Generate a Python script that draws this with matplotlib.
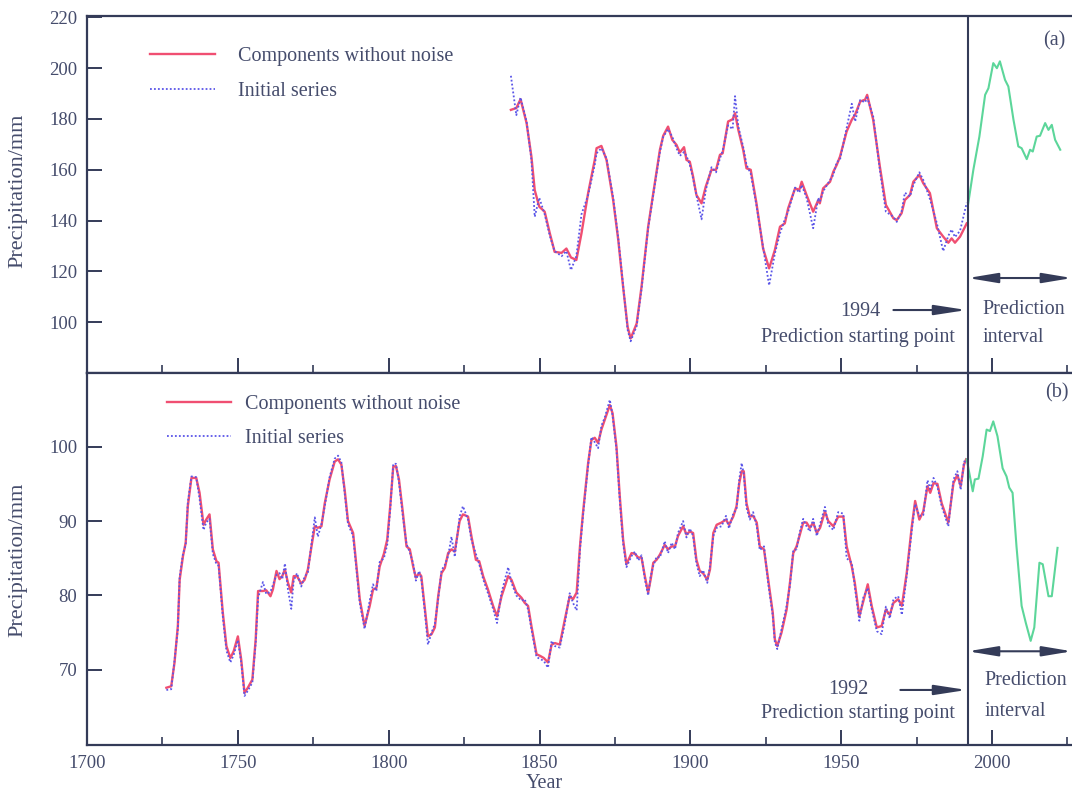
#!/usr/bin/env python
"""
Precipitation series with noise-free components and prediction.

Two stacked panels: (a) with prediction starting in 1994, (b) in 1992.
"""

import matplotlib
matplotlib.use('Agg')
import matplotlib.pyplot as plt
from matplotlib.lines import Line2D

# ---------------- panel (a) ----------------
years_a = [1840.5, 1842.3, 1843.7, 1845.7, 1847.3, 1848.4, 1849.9, 1851.7, 1853.4, 1855.0,
           1857.3, 1858.9, 1860.4, 1862.2, 1863.9, 1866.1, 1868.3, 1868.9, 1870.5, 1872.2,
           1874.4, 1876.1, 1877.7, 1879.2, 1880.2, 1882.2, 1883.8, 1886.0, 1888.2, 1889.9,
           1891.0, 1892.6, 1894.0, 1895.4, 1896.5, 1897.9, 1898.7, 1899.8, 1900.9, 1902.0,
           1903.7, 1905.1, 1907.0, 1908.5, 1909.8, 1910.7, 1912.5, 1914.0, 1914.8, 1915.9,
           1917.5, 1918.6, 1920.0, 1921.9, 1924.1, 1926.1, 1928.0, 1929.7, 1931.3, 1932.4,
           1934.7, 1936.1, 1936.9, 1938.5, 1940.7, 1942.4, 1942.9, 1944.0, 1946.3, 1947.4,
           1948.5, 1949.6, 1951.8, 1953.5, 1954.6, 1956.3, 1957.9, 1958.6, 1960.6, 1962.8,
           1964.8, 1967.3, 1968.4, 1970.0, 1971.1, 1972.8, 1973.9, 1975.9, 1977.2, 1979.4,
           1981.7, 1983.8, 1985.5, 1986.6, 1987.7, 1989.4, 1991.6]
smooth_a = [183.6, 184.3, 187.8, 178.4, 165.2, 152.0, 145.5, 143.5, 135.0, 127.7,
            127.3, 129.0, 125.5, 124.5, 135.0, 150.8, 163.9, 168.5, 169.4, 163.9,
            148.1, 132.3, 113.9, 98.1, 93.6, 99.5, 113.9, 137.6, 154.7, 167.9,
            173.4, 177.0, 171.8, 169.8, 166.8, 168.9, 163.9, 163.2, 157.3, 150.1,
            146.8, 153.4, 160.0, 160.0, 165.9, 166.5, 179.0, 179.9, 182.3, 175.7,
            167.9, 160.6, 160.0, 146.8, 129.0, 121.2, 128.4, 137.6, 138.9, 144.8,
            152.7, 152.1, 155.3, 150.1, 143.5, 148.1, 146.8, 152.7, 155.3, 159.3,
            161.9, 165.2, 175.1, 179.7, 181.7, 186.9, 187.6, 189.5, 179.7, 161.3,
            146.2, 140.9, 140.2, 142.9, 148.1, 150.1, 155.3, 158.0, 154.7, 150.8,
            137.0, 133.7, 131.3, 133.0, 131.3, 133.7, 138.9]
initial_a = [197.0, 181.5, 188.5, 179.0, 164.0, 141.5, 149.0, 142.5, 134.0, 128.0,
             126.0, 128.0, 120.5, 126.0, 142.5, 150.0, 162.0, 166.5, 168.5, 164.5,
             149.0, 133.0, 114.5, 97.0, 92.5, 98.5, 113.0, 137.0, 154.0, 167.0,
             173.0, 176.0, 173.0, 168.5, 165.5, 167.0, 165.5, 162.0, 156.5, 150.0,
             140.5, 152.0, 161.0, 159.0, 164.5, 167.5, 177.5, 176.0, 189.0, 177.0,
             169.0, 162.0, 158.5, 146.0, 129.5, 114.5, 127.0, 135.0, 140.5, 143.5,
             153.0, 151.0, 154.0, 149.0, 137.0, 149.0, 147.5, 151.5, 156.0, 158.0,
             163.0, 164.0, 176.5, 186.0, 179.0, 187.5, 186.5, 188.5, 181.0, 160.0,
             143.5, 141.5, 139.5, 143.5, 151.0, 149.5, 154.0, 159.0, 156.0, 148.5,
             139.0, 128.0, 134.0, 136.5, 133.5, 136.0, 147.0]
pred_years_a = [1992.0, 1993.8, 1995.8, 1997.7, 1998.8, 2000.4, 2001.6, 2002.6, 2004.3, 2005.4,
                2007.1, 2008.7, 2009.8, 2011.5, 2012.6, 2013.5, 2014.8, 2015.9, 2017.6, 2018.7,
                2019.8, 2020.9, 2022.6]
pred_a = [146.0, 160.0, 173.1, 189.5, 192.1, 202.0, 200.0, 202.7, 195.4, 192.8,
          179.7, 169.2, 168.5, 164.2, 167.9, 167.2, 173.1, 173.4, 178.4, 175.7,
          177.7, 171.8, 167.9]

# ---------------- panel (b) ----------------
years_b = [1726.3, 1727.9, 1729.0, 1730.1, 1730.7, 1731.8, 1732.7, 1733.4, 1734.6, 1736.2,
           1737.3, 1738.6, 1739.5, 1740.6, 1741.7, 1742.9, 1743.6, 1745.0, 1746.2, 1747.5,
           1748.6, 1750.0, 1751.1, 1752.2, 1753.3, 1754.8, 1755.9, 1756.7, 1758.3, 1759.4,
           1760.8, 1761.6, 1762.8, 1763.8, 1764.7, 1765.6, 1766.6, 1767.7, 1768.5, 1769.6,
           1771.0, 1772.1, 1773.2, 1774.4, 1775.5, 1776.5, 1777.7, 1778.8, 1780.4, 1782.1,
           1783.2, 1784.3, 1785.4, 1786.5, 1788.2, 1789.3, 1790.4, 1792.0, 1793.7, 1794.8,
           1795.9, 1797.0, 1798.4, 1799.5, 1800.5, 1801.5, 1802.4, 1803.4, 1804.7, 1805.9,
           1807.0, 1808.1, 1809.0, 1810.1, 1810.8, 1811.9, 1813.0, 1814.2, 1815.3, 1816.4,
           1817.5, 1818.6, 1819.7, 1820.8, 1821.9, 1823.5, 1824.6, 1826.3, 1827.4, 1828.9,
           1830.0, 1831.3, 1832.9, 1834.6, 1835.9, 1837.4, 1839.6, 1840.7, 1842.3, 1844.0,
           1845.1, 1846.2, 1847.3, 1849.0, 1850.1, 1851.4, 1852.8, 1854.0, 1855.1, 1856.7,
           1858.4, 1860.0, 1861.1, 1862.3, 1863.4, 1864.4, 1866.1, 1867.2, 1868.3, 1869.4,
           1870.5, 1871.6, 1873.3, 1874.2, 1875.5, 1876.6, 1877.7, 1878.8, 1880.5, 1881.6,
           1882.7, 1883.8, 1884.9, 1886.0, 1886.8, 1887.7, 1888.8, 1889.9, 1891.5, 1892.6,
           1893.8, 1894.9, 1895.9, 1897.6, 1898.7, 1899.8, 1900.9, 1902.0, 1903.1, 1904.2,
           1905.6, 1906.5, 1907.6, 1908.7, 1910.3, 1911.8, 1912.8, 1914.2, 1915.3, 1916.2,
           1917.0, 1917.7, 1918.6, 1919.7, 1920.8, 1922.0, 1923.0, 1924.4, 1925.8, 1927.3,
           1928.0, 1928.8, 1930.2, 1931.9, 1933.0, 1934.1, 1935.2, 1936.3, 1937.4, 1938.5,
           1939.6, 1940.7, 1941.9, 1943.0, 1944.6, 1945.7, 1947.4, 1949.0, 1950.7, 1951.8,
           1953.5, 1954.5, 1956.0, 1957.3, 1958.8, 1960.1, 1961.8, 1963.4, 1964.8, 1966.1,
           1967.3, 1968.9, 1970.1, 1971.7, 1973.4, 1974.5, 1975.9, 1977.2, 1978.6, 1979.5,
           1980.6, 1981.9, 1983.3, 1985.5, 1987.2, 1988.5, 1989.6, 1990.7, 1991.4]
smooth_b = [67.6, 67.8, 71.0, 75.9, 82.1, 85.3, 87.1, 92.0, 95.8, 95.8,
            93.8, 89.5, 90.2, 90.9, 86.2, 84.6, 84.4, 77.7, 73.2, 71.6,
            72.5, 74.5, 71.4, 66.9, 67.6, 68.7, 74.1, 80.6, 80.6, 80.7,
            79.9, 80.8, 83.3, 82.2, 82.6, 83.5, 81.7, 80.4, 82.6, 82.6,
            81.6, 82.1, 83.5, 86.6, 89.3, 89.1, 89.3, 92.4, 95.6, 98.0,
            98.3, 97.6, 94.2, 90.0, 88.4, 83.9, 79.5, 75.9, 78.6, 80.8,
            81.0, 83.9, 85.6, 87.5, 92.0, 97.3, 97.4, 95.6, 91.1, 86.6,
            86.2, 83.9, 82.4, 83.0, 82.6, 78.6, 74.5, 74.8, 75.7, 79.9,
            83.0, 83.7, 85.7, 86.2, 85.9, 90.0, 90.9, 90.6, 88.0, 84.8,
            84.6, 82.6, 80.8, 78.6, 77.2, 79.9, 82.6, 82.1, 80.4, 79.7,
            79.0, 78.6, 75.9, 72.1, 71.9, 71.6, 71.0, 73.4, 73.6, 73.4,
            76.8, 79.9, 79.5, 80.4, 86.6, 91.1, 97.8, 100.9, 101.2, 100.5,
            102.3, 103.6, 105.6, 104.5, 100.0, 93.3, 87.5, 84.2, 85.7, 85.6,
            85.1, 85.1, 82.6, 80.4, 82.1, 84.4, 84.8, 85.5, 86.8, 86.2,
            86.6, 86.6, 88.0, 89.3, 88.2, 88.6, 88.4, 84.8, 83.3, 83.0,
            82.1, 83.5, 88.4, 89.5, 89.8, 90.2, 89.5, 90.6, 92.0, 95.1,
            96.7, 96.7, 92.4, 90.6, 90.7, 89.8, 86.6, 86.2, 82.1, 77.7,
            74.1, 73.2, 75.0, 78.1, 81.7, 85.7, 86.6, 88.2, 89.8, 89.8,
            89.1, 89.8, 88.4, 89.1, 91.3, 90.0, 89.3, 90.6, 90.6, 86.6,
            83.9, 81.7, 77.2, 79.2, 81.5, 78.6, 75.7, 75.9, 78.1, 77.4,
            79.0, 79.5, 78.6, 83.0, 89.3, 92.7, 90.2, 91.3, 94.7, 93.8,
            95.1, 95.0, 92.4, 89.8, 95.1, 96.2, 94.7, 97.6, 98.3]
initial_b = [67.3, 67.4, 71.3, 75.5, 82.5, 85.6, 86.8, 92.5, 96.0, 95.9,
             93.0, 88.8, 89.8, 90.3, 85.6, 84.2, 84.0, 77.2, 72.6, 71.0,
             72.0, 74.0, 71.0, 66.5, 67.2, 68.3, 73.6, 79.7, 81.8, 80.2,
             80.5, 81.4, 82.8, 83.0, 82.2, 84.3, 80.8, 78.2, 82.0, 83.0,
             81.2, 82.5, 83.1, 87.0, 90.5, 87.9, 89.6, 92.0, 95.9, 98.4,
             98.8, 97.9, 93.8, 89.6, 88.0, 83.5, 79.0, 75.5, 79.3, 81.5,
             80.6, 84.5, 85.0, 86.8, 91.6, 97.7, 97.7, 95.2, 90.6, 86.9,
             85.8, 84.3, 82.0, 83.3, 82.2, 78.1, 73.4, 75.0, 76.2, 79.5,
             83.4, 84.1, 85.3, 87.9, 85.2, 90.6, 92.0, 90.2, 87.5, 85.6,
             84.2, 82.2, 80.3, 78.2, 76.3, 80.4, 83.8, 81.7, 80.0, 79.3,
             79.5, 78.1, 75.5, 71.7, 71.5, 71.2, 70.3, 73.9, 73.2, 73.0,
             76.3, 80.3, 79.0, 78.0, 86.2, 90.7, 97.5, 101.3, 100.6, 99.8,
             102.8, 103.9, 106.3, 104.2, 99.6, 92.8, 87.0, 83.8, 85.3, 85.9,
             84.7, 85.4, 82.2, 80.0, 82.5, 84.0, 85.2, 85.1, 87.3, 85.7,
             87.1, 86.2, 88.4, 90.0, 87.8, 89.0, 88.0, 84.3, 82.6, 83.4,
             81.7, 84.0, 88.0, 89.1, 89.3, 90.7, 89.0, 91.0, 91.6, 95.6,
             97.8, 96.3, 91.8, 90.2, 91.2, 89.3, 86.1, 86.6, 81.6, 77.3,
             73.7, 72.8, 75.4, 78.6, 81.3, 86.1, 86.2, 88.6, 90.3, 89.3,
             88.6, 90.3, 88.0, 89.6, 91.9, 89.5, 88.8, 91.2, 91.0, 85.0,
             84.4, 81.2, 76.6, 79.7, 81.0, 78.2, 75.2, 74.8, 78.5, 76.9,
             79.5, 79.9, 77.4, 82.6, 88.8, 92.3, 90.7, 90.8, 95.5, 94.3,
             95.8, 94.6, 92.0, 89.3, 95.6, 96.7, 94.2, 98.0, 98.0]
pred_years_b = [1991.6, 1993.6, 1994.3, 1995.5, 1996.9, 1998.2, 1999.3, 2000.4, 2001.8, 2003.5,
                2004.8, 2005.7, 2006.8, 2008.1, 2009.8, 2011.2, 2012.8, 2014.0, 2015.7, 2016.8,
                2018.7, 2019.8, 2021.7]
pred_b = [98.3, 94.0, 95.6, 95.7, 98.7, 102.3, 102.1, 103.4, 101.4, 97.1,
          96.0, 94.5, 93.8, 86.6, 78.6, 76.3, 73.9, 75.7, 84.4, 84.2,
          79.9, 79.9, 86.4]

INK = '#343b58'
TXT = '#454c6c'
RED = '#f04f72'
BLUE = '#5a55e8'
GREEN = '#5cd69a'
SERIF = ['Liberation Serif', 'DejaVu Serif']


def style_axis(ax, yticks):
    """Inward ticks, dark frame, serif labels."""
    ax.set_xlim(1700, 2026.5)
    ax.set_xticks(range(1700, 2001, 50))
    ax.set_xticks(range(1725, 2030, 50), minor=True)
    ax.set_yticks(yticks)
    ax.tick_params(axis='both', which='major', direction='in', length=11, width=1.4,
                   colors=INK, labelcolor=TXT, labelsize=13.5, pad=7)
    ax.tick_params(axis='x', which='minor', direction='in', length=6, width=1.2, colors=INK)
    ax.tick_params(top=False, right=False)
    ax.spines['right'].set_visible(False)
    for s in ('left', 'bottom', 'top'):
        ax.spines[s].set_color(INK)
        ax.spines[s].set_linewidth(1.6)
    for lab in ax.get_xticklabels() + ax.get_yticklabels():
        lab.set_family(SERIF)


def add_legend(ax, x, y, textpad):
    handles = [Line2D([], [], color=RED, lw=1.7),
               Line2D([], [], color=BLUE, lw=1.3, linestyle=(0, (1, 1.2)))]
    leg = ax.legend(handles, ['Components without noise', 'Initial series'],
                    loc='upper left', bbox_to_anchor=(x, y), frameon=False,
                    borderpad=0, borderaxespad=0, handlelength=3.2, handletextpad=textpad,
                    labelspacing=0.75, prop={'family': SERIF, 'size': 14.5})
    for t in leg.get_texts():
        t.set_color(TXT)


def arrow(ax, x0, x1, y, style):
    ax.annotate('', xy=(x1, y), xytext=(x0, y),
                arrowprops=dict(arrowstyle=style, color=INK, lw=1.5,
                                mutation_scale=15, shrinkA=0, shrinkB=0))


def plot_panels():
    fig = plt.figure(figsize=(10.72, 7.93), dpi=100)
    ax_a = fig.add_axes([0.0812, 0.5296, 0.9188, 0.4504])
    ax_b = fig.add_axes([0.0812, 0.0605, 0.9188, 0.4691])

    head_one = '-|>,head_length=1.3,head_width=0.2'
    head_two = '<|-|>,head_length=1.2,head_width=0.2'

    # panel (a)
    ax_a.plot(years_a, smooth_a, color=RED, lw=1.7)
    ax_a.plot(years_a, initial_a, color=BLUE, lw=1.3, linestyle=(0, (1, 1.2)))
    ax_a.plot(pred_years_a, pred_a, color=GREEN, lw=1.5)
    ax_a.axvline(1992, color=INK, lw=1.5)
    ax_a.set_ylim(80, 220.6)
    style_axis(ax_a, range(100, 221, 20))
    ax_a.tick_params(axis='x', labelbottom=False)
    add_legend(ax_a, 0.064, 0.912, 1.15)

    arrow(ax_a, 1967.3, 1991.6, 104.8, head_one)
    arrow(ax_a, 1992, 2026.5, 117.4, head_two)
    ax_a.text(1956.4, 104.4, '1994', ha='center', va='center', color=TXT,
              family=SERIF, fontsize=14.5)
    ax_a.text(1955.4, 93.8, 'Prediction starting point', ha='center', va='center',
              color=TXT, family=SERIF, fontsize=14.5)
    ax_a.text(1996.7, 105.2, 'Prediction', ha='left', va='center', color=TXT,
              family=SERIF, fontsize=14.5)
    ax_a.text(1996.7, 93.8, 'interval', ha='left', va='center', color=TXT,
              family=SERIF, fontsize=14.5)
    ax_a.text(2020.5, 210.7, '(a)', ha='center', va='center', color=TXT,
              family=SERIF, fontsize=14.5)

    # panel (b)
    ax_b.plot(years_b, smooth_b, color=RED, lw=1.7)
    ax_b.plot(years_b, initial_b, color=BLUE, lw=1.3, linestyle=(0, (1, 1.2)))
    ax_b.plot(pred_years_b, pred_b, color=GREEN, lw=1.5)
    ax_b.axvline(1992, color=INK, lw=1.5)
    ax_b.set_ylim(59.9, 109.9)
    style_axis(ax_b, range(70, 101, 10))
    ax_b.tick_params(axis='x', which='both', top=False)
    add_legend(ax_b, 0.081, 0.941, 0.7)

    arrow(ax_b, 1969.6, 1991.6, 67.3, head_one)
    arrow(ax_b, 1992, 2026.5, 72.5, head_two)
    ax_b.text(1952.4, 67.3, '1992', ha='center', va='center', color=TXT,
              family=SERIF, fontsize=14.5)
    ax_b.text(1955.4, 64.2, 'Prediction starting point', ha='center', va='center',
              color=TXT, family=SERIF, fontsize=14.5)
    ax_b.text(1997.4, 68.6, 'Prediction', ha='left', va='center', color=TXT,
              family=SERIF, fontsize=14.5)
    ax_b.text(1997.4, 64.4, 'interval', ha='left', va='center', color=TXT,
              family=SERIF, fontsize=14.5)
    ax_b.text(2021.5, 107.3, '(b)', ha='center', va='center', color=TXT,
              family=SERIF, fontsize=14.5)

    # shared labels
    fig.text(0.017, 0.760, 'Precipitation/mm', rotation=90, ha='center', va='center',
             color=TXT, family=SERIF, fontsize=16)
    fig.text(0.017, 0.294, 'Precipitation/mm', rotation=90, ha='center', va='center',
             color=TXT, family=SERIF, fontsize=16)
    fig.text(0.508, 0.012, 'Year', ha='center', va='center', color=TXT,
             family=SERIF, fontsize=14.5)

    fig.savefig('out.png', dpi=100)


def main():
    plot_panels()


if __name__ == "__main__":
    main()
